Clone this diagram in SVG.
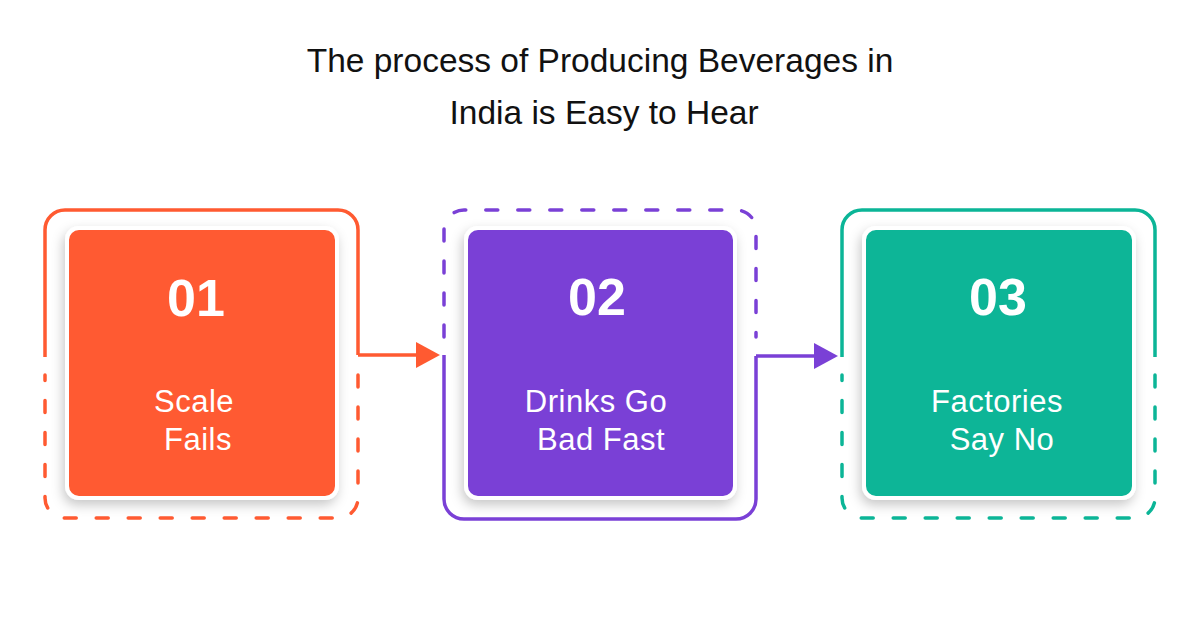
<svg xmlns="http://www.w3.org/2000/svg" width="1200" height="628" viewBox="0 0 1200 628">
  <defs>
    <filter id="shadow" x="-20%" y="-20%" width="140%" height="140%">
      <feDropShadow dx="-2" dy="5" stdDeviation="6" flood-color="#000" flood-opacity="0.22"/>
    </filter>
    <style>
      .title { font-family: "Liberation Sans", Arial, sans-serif; font-size: 33.5px; fill: #111; text-anchor: middle; }
      .num { font-family: "Liberation Sans", Arial, sans-serif; font-weight: bold; font-size: 52px; fill: #fff; text-anchor: middle; }
      .lbl { font-family: "Liberation Sans", Arial, sans-serif; font-size: 31px; letter-spacing: 0.5px; fill: #fff; text-anchor: middle; }
      .solid { fill: none; stroke-width: 3.5; stroke-linejoin: round; }
      .dash { fill: none; stroke-width: 3.5; stroke-dasharray: 12 20; stroke-linecap: round; }
      .card { stroke: #fff; stroke-width: 4; filter: url(#shadow); }
      .o { stroke: #FF5A31; }
      .p { stroke: #7A40D6; }
      .t { stroke: #0BB597; }
    </style>
  </defs>
  <rect width="1200" height="628" fill="#fff"/>

  <g id="title">
    <text class="title" x="600" y="72">The process of Producing Beverages in</text>
    <text class="title" x="604" y="124">India is Easy to Hear</text>
  </g>

  <g id="node1">
    <path class="solid o" d="M45,357 V230 A20,20 0 0 1 65,210 H338 A20,20 0 0 1 358,230 V355"/>
    <path class="dash o" d="M358,375 V498 A20,20 0 0 1 338,518 H65 A20,20 0 0 1 45,498 V375"/>
    <rect class="card" x="67" y="228" width="270" height="270" rx="12" fill="#FF5A31"/>
    <text class="num" x="196" y="316">01</text>
    <text class="lbl" x="194" y="412">Scale</text>
    <text class="lbl" x="198" y="450">Fails</text>
  </g>

  <g id="node2">
    <path class="dash p" d="M444,337 V230 A20,20 0 0 1 464,210 H736 A20,20 0 0 1 756,230 V337"/>
    <path class="solid p" d="M444,355 V499 A20,20 0 0 0 464,519 H736 A20,20 0 0 0 756,499 V356"/>
    <rect class="card" x="466" y="228" width="269" height="270" rx="12" fill="#7A40D6"/>
    <text class="num" x="597" y="315">02</text>
    <text class="lbl" x="596" y="412">Drinks Go</text>
    <text class="lbl" x="601" y="450">Bad Fast</text>
  </g>

  <g id="node3">
    <path class="solid t" d="M842,357 V230 A20,20 0 0 1 862,210 H1135 A20,20 0 0 1 1155,230 V357"/>
    <path class="dash t" d="M1155,375 V498 A20,20 0 0 1 1135,518 H862 A20,20 0 0 1 842,498 V375"/>
    <rect class="card" x="864" y="228" width="270" height="270" rx="12" fill="#0BB597"/>
    <text class="num" x="998" y="315">03</text>
    <text class="lbl" x="997" y="412">Factories</text>
    <text class="lbl" x="1002" y="450">Say No</text>
  </g>

  <g id="connectors">
    <path class="solid o" d="M358,355 H418"/>
    <polygon points="416,342 440,355 416,368" fill="#FF5A31"/>
    <path class="solid p" d="M756,356 H816"/>
    <polygon points="814,343 838,356 814,369" fill="#7A40D6"/>
  </g>
</svg>
